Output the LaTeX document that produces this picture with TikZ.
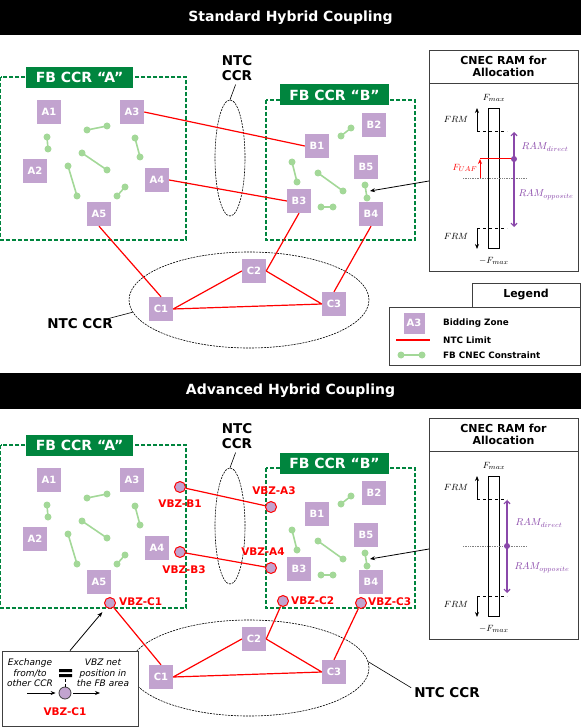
\documentclass[tikz,border=0pt]{standalone}
\usepackage{fontspec}
\setmainfont{DejaVu Sans}
\usetikzlibrary{arrows.meta,positioning,shapes.geometric}

\definecolor{fbgreen}{RGB}{0,133,62}
\definecolor{bzpurple}{RGB}{194,163,207}
\definecolor{cnecgreen}{RGB}{163,216,152}
\definecolor{rampurple}{RGB}{138,72,170}
\definecolor{framegray}{RGB}{64,64,64}

\begin{document}
\begin{tikzpicture}[
    x=1pt, y=-1pt,
    % Node styles
    title bar/.style={
        fill=black, text=white, inner sep=0pt, minimum width=581pt,
        font=\bfseries\fontsize{14}{16}\selectfont,
      },
    zone/.style={
        fill=bzpurple, text=white, minimum size=24pt, inner sep=0pt,
        font=\bfseries\fontsize{10}{12}\selectfont,
      },
    ccr label/.style={
        fill=fbgreen, text=white, minimum height=21pt, inner sep=0pt,
        font=\bfseries\fontsize{14}{16}\selectfont,
      },
    ccr box/.style={draw=fbgreen, line width=1.2pt, dash pattern=on 4pt off 2pt},
    ntc area/.style={
        ellipse, draw, line width=0.6pt, dash pattern=on 2pt off 1pt, inner sep=0pt,
      },
    ntc label/.style={align=center, inner sep=0pt, font=\bfseries\fontsize{13.5}{15}\selectfont},
    vbz/.style={
        circle, draw=red, fill=bzpurple, line width=1pt,
        minimum size=11pt, inner sep=0pt,
      },
    vbz label/.style={text=red, inner sep=0pt, font=\bfseries\fontsize{10.5}{12}\selectfont},
    frame box/.style={draw=framegray, line width=0.8pt, fill=white},
    panel head/.style={
        frame box, align=center, inner sep=0pt,
        font=\bfseries\fontsize{11}{12.5}\selectfont,
      },
    mathlbl/.style={inner sep=0pt, font=\fontsize{9.5}{11}\selectfont},
    ramlbl/.style={mathlbl, text=rampurple, font=\fontsize{10}{12}\selectfont},
    % Edge/arrow styles
    ntc limit/.style={draw=red, line width=1.2pt},
    cnec/.style={draw=cnecgreen, line width=1.6pt},
    pointer/.style={draw, line width=0.8pt, -{Stealth[length=5pt,width=4pt]}},
    ram range/.style={
        draw=rampurple, line width=1.2pt,
        {Straight Barb[length=3pt,width=6pt]}-{Straight Barb[length=3pt,width=6pt]},
      },
  ]
  \useasboundingbox (0,0) rectangle (581,727);

  % --- Section titles ---
  \node[title bar, minimum height=35pt] (title-std) at (290.5,17.5) {Standard Hybrid Coupling};
  \node[title bar, minimum height=36pt] (title-adv) at (290.5,391) {Advanced Hybrid Coupling};

  % --- Parts shared by both sections (second one is 368pt lower) ---
  \foreach \sec/\dy in {t/0, b/368} {
      \begin{scope}[shift={(0,\dy)}, name prefix=\sec-]
        % FB capacity calculation regions
        \draw[ccr box] (0.6,77) rectangle (186,240);
        \draw[ccr box] (266,100) rectangle (415,240);
        \node[ccr label, minimum width=107pt] (ccrA) at (79.5,77.5) {FB CCR “A”};
        \node[ccr label, minimum width=109pt] (ccrB) at (334.5,95) {FB CCR “B”};

        % NTC capacity calculation regions
        \node[ntc area, minimum width=30pt, minimum height=116pt] (ntcV) at (230,158) {};
        \node[ntc label] (ntcV-lbl) at (237,68) {NTC\\CCR};
        \draw[line width=0.6pt, shorten <=4pt] (ntcV-lbl.south) -- (ntcV.north);
        \node[ntc area, minimum width=240pt, minimum height=96pt] (ntcC) at (249,300) {};

        % Bidding zones
        \foreach \z/\px/\py in {A1/49/112, A2/35/171, A3/132/112, A4/157/180, A5/99/214,
            B1/317/146, B2/374/125, B3/299/201, B4/371/214, B5/366/167,
            C1/161/309, C2/254/271, C3/334/304}
          \node[zone] (\z) at (\px,\py) {\z};

        % FB CNEC constraints
        \foreach \xa/\ya/\xb/\yb in {87/130/107/126, 47/137/48/149, 82/153/107/170,
            135/138/140/157, 68/166/77/196, 117/196/125/187,
            341/136/351/128, 292/162/297/182, 318/173/343/191,
            365/185/367/198, 321/207/333/207} {
            \draw[cnec] (\xa,\ya) -- (\xb,\yb);
            \fill[cnecgreen] (\xa,\ya) circle (3.5pt) (\xb,\yb) circle (3.5pt);
          }

        % NTC limits inside the NTC region
        \draw[ntc limit] (C2.west) -- (C1.east) (C2.east) -- (C3.west) (C1.east) -- (C3.west);

        % CNEC RAM panel
        \node[panel head, minimum width=149pt, minimum height=33pt] (ramHead) at (503.5,66.5) {CNEC RAM for\\Allocation};
        \node[frame box, minimum width=149pt, minimum height=188pt, inner sep=0pt, anchor=north] (ram) at (ramHead.south) {};
        \draw[line width=0.7pt] (488,108) rectangle (499,248);
        \node[mathlbl] (fmax) at (494,98) {$F_{max}$};
        \node[mathlbl] (fmin) at (494,261) {$-F_{max}$};
        \draw[dashed, line width=0.7pt] (477,131) -- (507,131) (477,228) -- (507,228);
        \draw[pointer] (477,131) -- (477,108);
        \draw[pointer] (477,228) -- (477,249);
        \node[mathlbl] (frmTop) at (456,119) {$FRM$};
        \node[mathlbl] (frmBot) at (456,236) {$FRM$};
        \draw[densely dotted, gray, line width=0.7pt] (463,178) -- (527,178);

        % pointer from the panel to the CNEC it describes
        \coordinate (cnecFrom) at (429,181);
        \coordinate (cnecTip) at (370,191);
        \draw[pointer] (cnecFrom) -- (cnecTip);
      \end{scope}
    }

  % --- Standard hybrid coupling ---
  \draw[ntc limit] (t-A3.east) -- (t-B1.west) (t-A4.east) -- (t-B3.west)
  (t-A5.south) -- (t-C1.north) (t-B3.south) -- (t-C2.east)
  (t-B4.south) -- (t-C3.north);
  \node[ntc label] (t-ntcC-lbl) at (80,324) {NTC CCR};
  \draw[line width=0.6pt] ([xshift=-5pt]t-ntcC-lbl.north east) -- (t-ntcC.186);

  \draw[red, line width=1pt] (480,159) -- (514,159);
  \draw[red, line width=1pt, -{Stealth[length=5pt,width=4pt]}] (480,178) -- (480,159);
  \node[mathlbl, text=red] (fuaf) at (465,168) {$F_{UAF}$};
  \draw[ram range] (514,132) -- (514,227);
  \fill[rampurple] (514,159) circle (3pt);
  \node[ramlbl] (t-ramDir) at (545,147) {$RAM_{direct}$};
  \node[ramlbl] (t-ramOpp) at (546,195) {$RAM_{opposite}$};

  % --- Legend ---
  \node[panel head, minimum width=108pt, minimum height=24pt] (legHead) at (526,295) {Legend};
  \draw[frame box] (389,307) rectangle (580,365);
  \node[zone, minimum size=21pt] (leg-zone) at (414,323) {A3};
  \draw[ntc limit] (396,340) -- (430,340);
  \draw[cnec] (401,355) -- (422,355);
  \fill[cnecgreen] (401,355) circle (3.5pt) (422,355) circle (3.5pt);
  \begin{scope}[legend text/.style={anchor=west, inner sep=0pt, font=\bfseries\fontsize{8.8}{10}\selectfont}]
    \node[legend text] (leg-zone-txt) at (443,323) {Bidding Zone};
    \node[legend text] (leg-ntc-txt) at (443,340) {NTC Limit};
    \node[legend text] (leg-cnec-txt) at (443,355) {FB CNEC Constraint};
  \end{scope}

  % --- Advanced hybrid coupling: virtual bidding zones ---
  \node[vbz] (vB1) at (180,487) {};
  \node[vbz] (vA3) at (271,507) {};
  \node[vbz] (vB3) at (180,552) {};
  \node[vbz] (vA4) at (271,568) {};
  \node[vbz] (vC1) at (110,603) {};
  \node[vbz] (vC2) at (283,601) {};
  \node[vbz] (vC3) at (361,603) {};
  \node[vbz label, below=7pt of vB1] (vB1-lbl) {VBZ-B1};
  \node[vbz label, above=6pt of vA3, xshift=3pt] (vA3-lbl) {VBZ-A3};
  \node[vbz label, below=8pt of vB3, xshift=4pt] (vB3-lbl) {VBZ-B3};
  \node[vbz label, above=6pt of vA4, xshift=-8pt] (vA4-lbl) {VBZ-A4};
  \node[vbz label, right=3pt of vC1, yshift=1.5pt] (vC1-lbl) {VBZ-C1};
  \node[vbz label, right=2pt of vC2] (vC2-lbl) {VBZ-C2};
  \node[vbz label, right=1pt of vC3, yshift=1.5pt] (vC3-lbl) {VBZ-C3};
  \draw[ntc limit] (vB1) -- (vA3) (vB3) -- (vA4)
  (vC1) -- (b-C1.north) (vC2) -- (b-C2.east) (vC3) -- (b-C3.north);

  \node[ntc label] (b-ntcC-lbl) at (447,693) {NTC CCR};
  \draw[line width=0.6pt] (b-ntcC.3) -- ([xshift=-3pt]b-ntcC-lbl.north west);

  \draw[ram range] (507,500) -- (507,593);
  \fill[rampurple] (507,546) circle (3pt);
  \node[ramlbl] (b-ramDir) at (539,523) {$RAM_{direct}$};
  \node[ramlbl] (b-ramOpp) at (542,568) {$RAM_{opposite}$};

  % --- What a VBZ stands for ---
  \node[frame box, minimum width=136pt, minimum height=75pt, inner sep=0pt] (expl) at (70,688.5) {};
  \draw[pointer, shorten >=6pt] (expl.north) -- (vC1);
  \begin{scope}[expl text/.style={align=center, inner sep=0pt, font=\itshape\fontsize{9}{10.5}\selectfont}]
    \node[expl text] (expl-from) at (30,673) {Exchange\\from/to\\other CCR};
    \node[expl text] (expl-to) at (103,673) {VBZ net\\position in\\the FB area};
  \end{scope}
  \fill (59,669) rectangle (72,672) (59,674) rectangle (72,677);
  \node[vbz, draw=framegray, line width=0.8pt, minimum size=12pt] (expl-vbz) at (65,693) {};
  \draw[line width=0.8pt, dash pattern=on 3pt off 2pt] (expl-vbz.north) -- ++(0,-9);
  \coordinate (expl-in) at (27,693);
  \coordinate (expl-out) at (100,693);
  \draw[pointer, shorten >=3pt] (expl-in) -- (expl-vbz.west);
  \draw[pointer, shorten <=2pt] (expl-vbz.east) -- (expl-out);
  \node[vbz label, below=8pt of expl-vbz] (expl-vbz-lbl) {VBZ-C1};
\end{tikzpicture}
\end{document}
